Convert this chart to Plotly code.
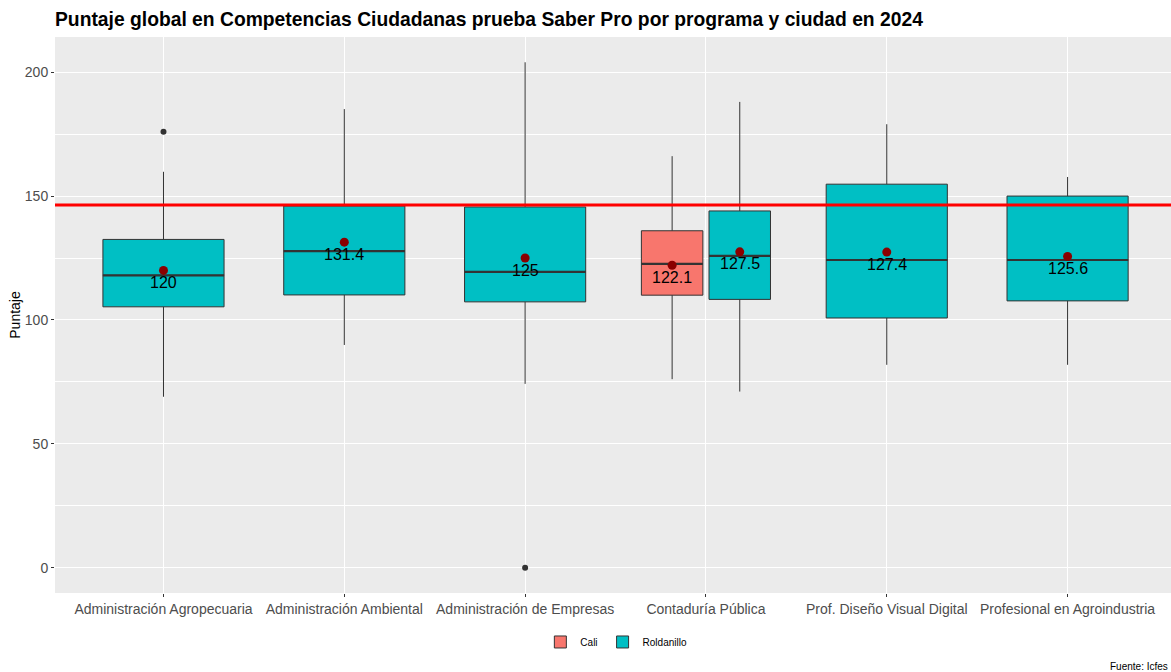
import plotly.graph_objects as go

# Programas y resumen de cajas (Puntaje global, Competencias Ciudadanas 2024)
programas = [
    "Administración Agropecuaria",
    "Administración Ambiental",
    "Administración de Empresas",
    "Contaduría Pública",
    "Prof. Diseño Visual Digital",
    "Profesional en Agroindustria",
]

# Roldanillo: un valor por programa
rold_q1 = [105.3, 110.1, 107.3, 108.3, 100.8, 107.7]
rold_mediana = [118.0, 127.8, 119.4, 125.9, 124.2, 124.2]
rold_q3 = [132.5, 146.0, 145.6, 144.0, 154.8, 150.0]
rold_min = [69.0, 89.9, 74.2, 71.1, 81.9, 81.9]
rold_max = [159.8, 185.1, 204.0, 188.0, 179.0, 157.7]
rold_media = [120.0, 131.4, 125.0, 127.5, 127.4, 125.6]

# Cali: solo Contaduría Pública
cali_programa = ["Contaduría Pública"]
cali_q1 = [110.0]
cali_mediana = [122.6]
cali_q3 = [136.0]
cali_min = [76.1]
cali_max = [166.1]
cali_media = [122.1]

# Atípicos (Roldanillo)
atip_programa = ["Administración Agropecuaria", "Administración de Empresas"]
atip_valor = [176.0, 0.0]

# Promedio de referencia (línea roja)
promedio_ref = 146.4

COL_CALI = "#F8766D"
COL_ROLD = "#00BFC4"
BORDE = "#333333"
FUENTE = "Liberation Sans, Arial, sans-serif"

ANCHO_SOLO = 0.67
ANCHO_DODGE = 0.34
DESPL = 0.187

idx = {p: i for i, p in enumerate(programas)}
compartidos = set(cali_programa)


def posicion(programa, ciudad):
    base = idx[programa]
    if programa in compartidos:
        return base - DESPL if ciudad == "Cali" else base + DESPL
    return base


fig = go.Figure()


def caja(nombre, xs, q1, med, q3, lo, hi, ancho, color, leyenda):
    fig.add_trace(go.Box(
        name=nombre, legendgroup=nombre, showlegend=leyenda,
        x=xs, q1=q1, median=med, q3=q3, lowerfence=lo, upperfence=hi,
        width=ancho, fillcolor=color, line=dict(color=BORDE, width=1),
        whiskerwidth=0, boxpoints=False, hoverinfo="skip",
    ))
    # mediana más gruesa
    mx, my = [], []
    for x, m in zip(xs, med):
        mx += [x - ancho / 2, x + ancho / 2, None]
        my += [m, m, None]
    fig.add_trace(go.Scatter(x=mx, y=my, mode="lines", showlegend=False,
                             line=dict(color=BORDE, width=2.2), hoverinfo="skip"))


# Cali
cx = [posicion(p, "Cali") for p in cali_programa]
caja("Cali", cx, cali_q1, cali_mediana, cali_q3, cali_min, cali_max,
     ANCHO_DODGE, COL_CALI, True)

# Roldanillo, separado por ancho de caja
solo = [i for i, p in enumerate(programas) if p not in compartidos]
dodge = [i for i, p in enumerate(programas) if p in compartidos]
for sel, ancho, ley in [(solo, ANCHO_SOLO, True), (dodge, ANCHO_DODGE, False)]:
    caja("Roldanillo",
         [posicion(programas[i], "Roldanillo") for i in sel],
         [rold_q1[i] for i in sel], [rold_mediana[i] for i in sel],
         [rold_q3[i] for i in sel], [rold_min[i] for i in sel],
         [rold_max[i] for i in sel], ancho, COL_ROLD, ley)

# Atípicos
fig.add_trace(go.Scatter(
    x=[posicion(p, "Roldanillo") for p in atip_programa], y=atip_valor,
    mode="markers", showlegend=False, hoverinfo="skip",
    marker=dict(color=BORDE, size=6),
))

# Medias con etiqueta
def etiqueta(v):
    s = f"{v:.1f}"
    return s[:-2] if s.endswith(".0") else s


mx = cx + [posicion(p, "Roldanillo") for p in programas]
my = cali_media + rold_media
fig.add_trace(go.Scatter(
    x=mx, y=my, mode="markers", showlegend=False, hoverinfo="skip",
    marker=dict(color="#8B0000", size=9),
))
for x, y in zip(mx, my):
    fig.add_annotation(x=x, y=y, text=etiqueta(y), showarrow=False, yshift=-12,
                       font=dict(size=16, color="black", family=FUENTE))

fig.add_hline(y=promedio_ref, line=dict(color="red", width=3), layer="above")

fig.add_annotation(text="Fuente: Icfes", xref="paper", yref="paper",
                   x=1, xshift=-1, xanchor="right", y=-0.1315, yanchor="middle",
                   showarrow=False, font=dict(size=10, color="black", family=FUENTE))

fig.update_layout(
    width=1171, height=672,
    margin=dict(l=55, r=0, t=37, b=79),
    paper_bgcolor="white", plot_bgcolor="#EBEBEB",
    font=dict(family=FUENTE, color="#4D4D4D", size=14),
    title=dict(text="<b>Puntaje global en Competencias Ciudadanas prueba Saber Pro por programa y ciudad en 2024</b>",
               x=0, xref="paper", xanchor="left", y=0.972, yanchor="middle",
               font=dict(size=19.3, color="black", family=FUENTE)),
    boxmode="overlay",
    showlegend=True,
    legend=dict(orientation="h", x=0.503, xanchor="center", y=-0.062, yanchor="top",
                font=dict(size=10, color="black", family=FUENTE),
                bgcolor="rgba(0,0,0,0)", itemwidth=30),
    xaxis=dict(
        tickmode="array", tickvals=list(range(len(programas))), ticktext=programas,
        range=[-0.6, 5.572], showgrid=True, gridcolor="white", gridwidth=1,
        zeroline=False, ticks="outside", ticklen=3, tickcolor=BORDE,
        tickfont=dict(size=14, color="#4D4D4D"),
    ),
    yaxis=dict(
        title=dict(text="Puntaje", font=dict(size=14, color="black"), standoff=0),
        range=[-10.2, 214.2], tickvals=[0, 50, 100, 150, 200],
        showgrid=True, gridcolor="white", gridwidth=1, zeroline=False,
        ticks="outside", ticklen=3, tickcolor=BORDE,
        tickfont=dict(size=14, color="#4D4D4D"),
        minor=dict(dtick=25, tick0=0, showgrid=True, gridcolor="white", gridwidth=0.5),
    ),
)

fig.write_html("out.html")
